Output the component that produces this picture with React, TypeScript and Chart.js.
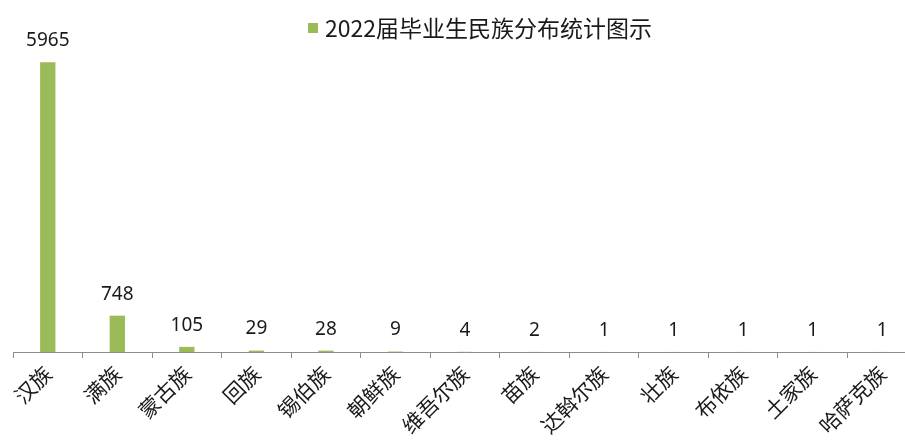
import React, { useEffect, useRef } from "react";
import { Chart, registerables } from "chart.js";

Chart.register(...registerables);

const categories = ["汉族", "满族", "蒙古族", "回族", "锡伯族", "朝鲜族", "维吾尔族", "苗族", "达斡尔族", "壮族", "布依族", "土家族", "哈萨克族"];
const seriesName = "2022届毕业生民族分布统计图示";
const counts = [5965, 748, 105, 29, 28, 9, 4, 2, 1, 1, 1, 1, 1];
const yMax = 7000;

const barColor = "#9BBB59";

const valueLabels = {
  id: "valueLabels",
  afterDatasetsDraw(chart: any) {
    const ctx = chart.ctx;
    const meta = chart.getDatasetMeta(0);
    const data = chart.data.datasets[0].data as number[];
    ctx.save();
    ctx.font = "19px 'Noto Sans', sans-serif";
    ctx.fillStyle = "#1a1a1a";
    ctx.textAlign = "center";
    ctx.textBaseline = "bottom";
    meta.data.forEach((el: any, i: number) => {
      ctx.fillText(String(data[i]), el.x, el.y - 12);
    });
    ctx.restore();
  },
};

const topLegend = {
  id: "topLegend",
  afterDraw(chart: any) {
    const ctx = chart.ctx;
    const ds = chart.data.datasets[0];
    ctx.save();
    ctx.font = "23px 'Noto Sans CJK SC', sans-serif";
    const box = 10;
    const gap = 7;
    const x0 = 308;
    const cy = 28;
    ctx.fillStyle = ds.backgroundColor;
    ctx.fillRect(x0, cy - box / 2, box, box);
    ctx.fillStyle = "#1a1a1a";
    ctx.textAlign = "left";
    ctx.textBaseline = "middle";
    ctx.fillText(ds.label, x0 + box + gap, cy);
    ctx.restore();
  },
};

export default function App() {
  const ref = useRef<HTMLCanvasElement | null>(null);
  useEffect(() => {
    if (!ref.current) return;
    const chart = new Chart(ref.current, {
      type: "bar",
      data: {
        labels: categories,
        datasets: [
          {
            label: seriesName,
            data: counts,
            backgroundColor: barColor,
            borderWidth: 0,
            barPercentage: 0.22,
            categoryPercentage: 1,
          },
        ],
      },
      options: {
        animation: false,
        responsive: false,
        devicePixelRatio: 1,
        layout: { padding: { top: 12, left: 13, right: 8, bottom: 0 } },
        plugins: {
          tooltip: { enabled: false },
          legend: { display: false },
        },
        scales: {
          x: {
            offset: true,
            border: { display: true, color: "#8c8c8c", width: 1 },
            grid: {
              offset: true,
              drawOnChartArea: false,
              drawTicks: true,
              tickLength: 6,
              color: "#8c8c8c",
            },
            ticks: {
              minRotation: 45,
              maxRotation: 45,
              color: "#1a1a1a",
              padding: 3,
              font: { size: 21, family: "'Noto Sans CJK SC', sans-serif" },
            },
            afterFit: (scale: any) => {
              scale.height = 90;
            },
          },
          y: {
            display: false,
            min: 0,
            max: yMax,
          },
        },
      },
      plugins: [valueLabels, topLegend],
    });
    return () => chart.destroy();
  }, []);
  return (
    <div style={{ position: "fixed", left: 0, top: 0, width: 905, height: 442, overflow: "hidden", background: "#fff" }}>
      <canvas ref={ref} width={925} height={442} style={{ width: 925, height: 442, display: "block" }} />
    </div>
  );
}
